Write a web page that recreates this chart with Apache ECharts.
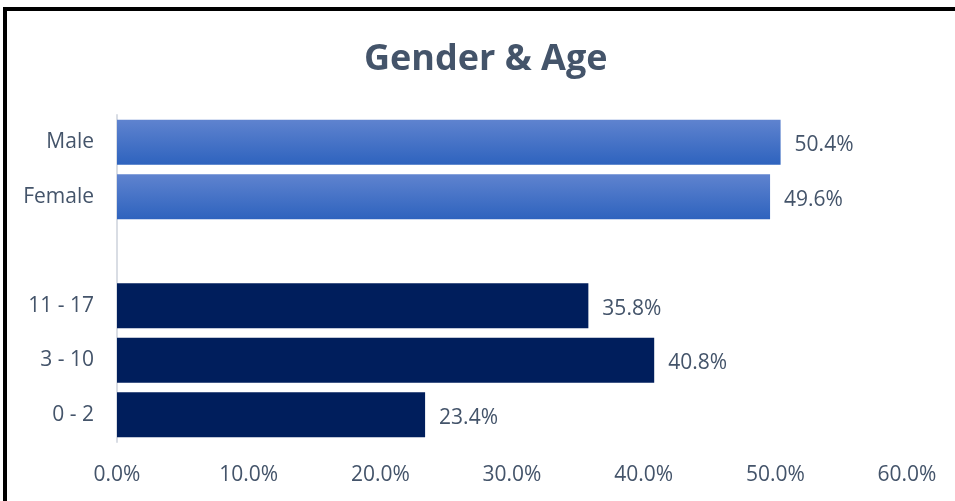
<!DOCTYPE html>
<html>
<head>
<meta charset="utf-8">
<script src="https://cdn.jsdelivr.net/npm/echarts@6/dist/echarts.min.js"></script>
<style>
  html, body { margin: 0; padding: 0; background: #fff; }
  #chart { width: 955px; height: 501px; }
</style>
</head>
<body>
<div id="chart"></div>
<script>
// gender rows, then a blank spacer row, then age groups
const genderLabels = ['Male', 'Female']
const genderValues = [50.4, 49.6]
const ageLabels = ['11 - 17', '3 - 10', '0 - 2']
const ageValues = [35.8, 40.8, 23.4]
const xTicks = { min: 0, max: 60, step: 10 }

const textColor = '#44546A'
const font = '"Open Sans", sans-serif'

const blueGradient = new echarts.graphic.LinearGradient(0, 0, 0, 1, [
  { offset: 0, color: '#5F83CF' },
  { offset: 1, color: '#2E63BE' }
])

const categories = [...genderLabels, '', ...ageLabels]
const seriesData = [
  ...genderValues.map(v => ({ value: v, itemStyle: { color: blueGradient } })),
  { value: '-' },
  ...ageValues.map(v => ({ value: v, itemStyle: { color: '#001E5C' } }))
]

const chart = echarts.init(document.getElementById('chart'))
chart.setOption({
  animation: false,
  title: {
    text: 'Gender & Age',
    left: 359,
    top: 37,
    textStyle: { color: textColor, fontSize: 36, fontWeight: 'bold', fontFamily: font }
  },
  graphic: [{
    type: 'rect',
    shape: { x: 5, y: 9, width: 1200, height: 800 },
    style: { fill: 'none', stroke: '#000', lineWidth: 4 },
    silent: true
  }],
  grid: { left: 117, right: 48, top: 115, height: 327, containLabel: false },
  xAxis: {
    type: 'value',
    min: xTicks.min,
    max: xTicks.max,
    interval: xTicks.step,
    axisLine: { show: false },
    axisTick: { show: false },
    splitLine: { show: false },
    axisLabel: {
      color: textColor, fontSize: 21, fontFamily: font, margin: 23,
      formatter: v => v.toFixed(1) + '%'
    }
  },
  yAxis: {
    type: 'category',
    inverse: true,
    data: categories,
    axisLine: { show: true, lineStyle: { color: '#D9DDE4', width: 2 } },
    axisTick: { show: false },
    axisLabel: { color: textColor, fontSize: 21, fontFamily: font, margin: 23, padding: [7, 0, 0, 0] }
  },
  series: [{
    type: 'bar',
    data: seriesData,
    barWidth: 45,
    label: {
      show: true,
      position: 'right',
      distance: 14,
      offset: [0, 3],
      color: textColor,
      fontSize: 21,
      fontFamily: font,
      formatter: p => p.value.toFixed(1) + '%'
    }
  }]
})
</script>
</body>
</html>
